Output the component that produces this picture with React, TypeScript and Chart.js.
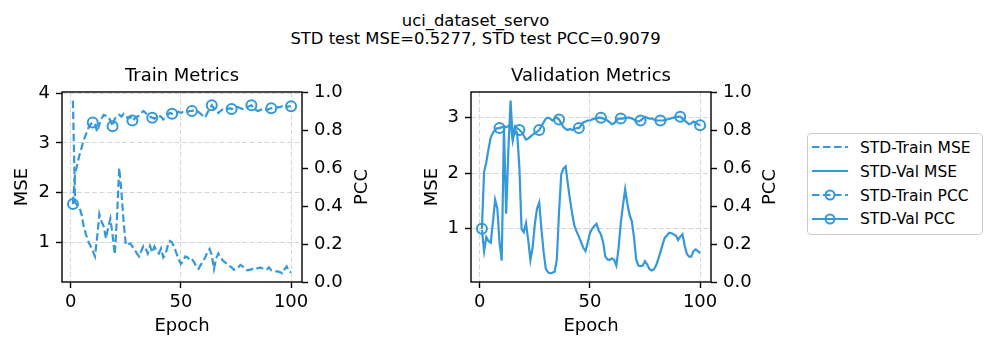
import React, { useEffect, useRef } from "react";
import { Chart, registerables } from "chart.js";

Chart.register(...registerables);

const COLOR = "#3498db";
const FONT = "'DejaVu Sans', 'Liberation Sans', sans-serif";

// ---------- data ----------
const epochs = Array.from({ length: 100 }, (_, i) => i + 1);

const trainMse = [
  3.85, 1.8, 1.75, 1.7, 1.55, 1.3, 1.15, 1.02, 0.93, 0.83,
  0.72, 1.1, 1.57, 1.42, 1.32, 1.08, 1.3, 1.48, 1.15, 0.76,
  1.5, 2.5, 2.03, 1.42, 0.95, 0.97, 0.98, 0.92, 0.86, 0.78,
  0.72, 0.83, 0.93, 0.88, 0.78, 0.93, 0.8, 0.92, 0.83, 0.78,
  0.88, 0.7, 0.76, 0.93, 1.03, 1.0, 0.9, 0.78, 0.66, 0.57,
  0.63, 0.72, 0.7, 0.65, 0.67, 0.6, 0.52, 0.47, 0.55, 0.62,
  0.7, 0.8, 0.87, 0.75, 0.47, 0.68, 0.78, 0.7, 0.64, 0.6,
  0.57, 0.53, 0.5, 0.45, 0.48, 0.5, 0.55, 0.52, 0.47, 0.44,
  0.45, 0.46, 0.48, 0.5, 0.48, 0.5, 0.48, 0.47, 0.46, 0.5,
  0.44, 0.43, 0.42, 0.42, 0.4, 0.38, 0.46, 0.52, 0.42, 0.4,
];

const trainPcc = [
  0.41, 0.57, 0.62, 0.67, 0.71, 0.75, 0.78, 0.81, 0.83, 0.84,
  0.83, 0.79, 0.83, 0.86, 0.88, 0.875, 0.87, 0.85, 0.82, 0.86,
  0.87, 0.88, 0.87, 0.885, 0.875, 0.86, 0.87, 0.85, 0.86, 0.87,
  0.875, 0.89, 0.9, 0.89, 0.875, 0.87, 0.865, 0.86, 0.87, 0.875,
  0.87, 0.855, 0.87, 0.88, 0.89, 0.885, 0.89, 0.895, 0.895, 0.89,
  0.895, 0.895, 0.895, 0.9, 0.9, 0.905, 0.9, 0.895, 0.885, 0.875,
  0.865, 0.89, 0.91, 0.93, 0.915, 0.905, 0.89, 0.9, 0.91, 0.915,
  0.91, 0.915, 0.91, 0.915, 0.92, 0.92, 0.915, 0.91, 0.915, 0.92,
  0.925, 0.93, 0.915, 0.905, 0.9, 0.905, 0.91, 0.91, 0.905, 0.91,
  0.915, 0.92, 0.915, 0.92, 0.92, 0.925, 0.92, 0.92, 0.925, 0.925,
];

const valMse = [
  0.98, 0.6, 0.85, 0.78, 0.75, 1.12, 1.52, 1.36, 0.75, 0.43,
  2.82, 1.27, 2.4, 3.3, 2.6, 2.78, 2.72, 2.1, 1.0, 0.94,
  1.1, 0.8, 0.44, 0.66, 1.08, 1.36, 1.47, 1.0, 0.58, 0.28,
  0.22, 0.2, 0.21, 0.23, 0.45, 1.3, 1.98, 2.08, 2.12, 1.8,
  1.52, 1.26, 1.05, 0.95, 0.86, 0.76, 0.66, 0.6, 0.75, 0.92,
  1.0, 1.05, 1.09, 0.97, 0.9, 0.76, 0.5, 0.45, 0.44, 0.47,
  0.44, 0.34, 0.65, 1.1, 1.42, 1.71, 1.45, 1.25, 1.14, 0.85,
  0.45, 0.34, 0.33, 0.34, 0.42, 0.36, 0.28, 0.25, 0.27, 0.34,
  0.45, 0.58, 0.72, 0.84, 0.88, 0.93, 0.92, 0.9, 0.88, 0.8,
  0.86, 0.9, 0.7, 0.55, 0.5, 0.5, 0.6, 0.63, 0.6, 0.56,
];

const valPcc = [
  0.28, 0.58, 0.63, 0.7, 0.76, 0.785, 0.8, 0.81, 0.81, 0.815,
  0.82, 0.815, 0.82, 0.83, 0.75, 0.82, 0.81, 0.8, 0.79, 0.77,
  0.75, 0.755, 0.765, 0.775, 0.785, 0.79, 0.8, 0.82, 0.84, 0.86,
  0.865, 0.86, 0.85, 0.86, 0.865, 0.855, 0.835, 0.815, 0.805, 0.8,
  0.805, 0.8, 0.805, 0.81, 0.81, 0.825, 0.84, 0.845, 0.85, 0.85,
  0.855, 0.86, 0.86, 0.865, 0.865, 0.86, 0.855, 0.85, 0.84, 0.83,
  0.835, 0.85, 0.86, 0.86, 0.86, 0.865, 0.865, 0.865, 0.86, 0.855,
  0.845, 0.845, 0.85, 0.86, 0.87, 0.865, 0.86, 0.86, 0.855, 0.85,
  0.85, 0.85, 0.85, 0.852, 0.855, 0.858, 0.862, 0.865, 0.868, 0.87,
  0.87, 0.86, 0.85, 0.84, 0.83, 0.835, 0.845, 0.84, 0.83, 0.825,
];

const trainPccMarkerEpochs = [1, 10, 19, 28, 37, 46, 55, 64, 73, 82, 91, 100];
const valPccMarkerEpochs = [1, 9, 18, 27, 36, 45, 55, 64, 73, 82, 91, 100];

const epochTicks = [0, 50, 100];
const trainMseTicks = [1, 2, 3, 4];
const valMseTicks = [1, 2, 3];
const pccTicks = [0, 0.2, 0.4, 0.6, 0.8, 1.0];

const suptitleLines = ["uci_dataset_servo", "STD test MSE=0.5277, STD test PCC=0.9079"];
const panelTitles = ["Train Metrics", "Validation Metrics"];
const legendLabels = ["STD-Train MSE", "STD-Val MSE", "STD-Train PCC", "STD-Val PCC"];

// ---------- helpers ----------
function paddedRange(values: number[]): [number, number] {
  const lo = Math.min(...values);
  const hi = Math.max(...values);
  const m = (hi - lo) * 0.05;
  return [lo - m, hi + m];
}

const decorPlugin = {
  id: "decor",
  afterDraw(chart: any, _args: any, opts: any) {
    const { ctx, chartArea: a } = chart;
    ctx.save();
    ctx.strokeStyle = "#000";
    ctx.lineWidth = 1.4;
    ctx.strokeRect(a.left, a.top, a.right - a.left, a.bottom - a.top);
    ctx.fillStyle = "#000";
    ctx.textBaseline = "alphabetic";
    ctx.textAlign = "center";
    for (const t of opts.texts || []) {
      ctx.save();
      ctx.font = `${t.size}px ${FONT}`;
      ctx.translate(t.x, t.y);
      if (t.rotate) ctx.rotate(-Math.PI / 2);
      ctx.fillText(t.text, 0, 0);
      ctx.restore();
    }
    ctx.restore();
  },
};

type PanelProps = {
  left: number;
  width: number;
  areaLeft: number;
  areaRight: number;
  title: string;
  mse: number[];
  pcc: number[];
  mseDash: number[];
  pccDash: number[];
  markerEpochs: number[];
  mseTicks: number[];
  mseLabelX: number;
  pccLabelX: number;
};

const H = 351;
const AREA_TOP = 92;
const AREA_BOTTOM = 282;

function Panel(p: PanelProps) {
  const ref = useRef<HTMLCanvasElement | null>(null);
  useEffect(() => {
    if (!ref.current) return;
    const [xmin, xmax] = paddedRange([epochs[0], epochs[epochs.length - 1]]);
    const [ymin, ymax] = paddedRange(p.mse);
    const cx = (p.areaLeft + p.areaRight) / 2;
    const cy = (AREA_TOP + AREA_BOTTOM) / 2;
    const tickFont = { family: FONT, size: 18 };
    const gridCommon = {
      color: "#d6d6d6",
      lineWidth: 1,
      tickColor: "#000",
      tickLength: 6,
      tickWidth: 1.4,
    };
    const chart = new Chart(ref.current, {
      type: "line",
      data: {
        datasets: [
          {
            label: "mse",
            data: p.mse.map((v, i) => ({ x: epochs[i], y: v })),
            yAxisID: "y",
            borderColor: COLOR,
            borderWidth: 2.2,
            borderDash: p.mseDash,
            pointRadius: 0,
            tension: 0,
            fill: false,
          },
          {
            label: "pcc",
            data: p.pcc.map((v, i) => ({ x: epochs[i], y: v })),
            yAxisID: "y1",
            borderColor: COLOR,
            borderWidth: 2.2,
            borderDash: p.pccDash,
            pointRadius: epochs.map((e) => (p.markerEpochs.includes(e) ? 5 : 0)),
            pointHoverRadius: 0,
            pointBorderWidth: 2,
            pointBorderColor: COLOR,
            pointBackgroundColor: "rgba(0,0,0,0)",
            tension: 0,
            fill: false,
          },
        ],
      },
      options: {
        animation: false,
        responsive: false,
        devicePixelRatio: 1,
        events: [],
        layout: { padding: { top: AREA_TOP, left: 0, right: 0, bottom: 0 } },
        plugins: {
          legend: { display: false },
          title: { display: false },
          tooltip: { enabled: false },
          decor: {
            texts: [
              { text: p.title, x: cx, y: 81, size: 18 },
              { text: "Epoch", x: cx, y: 331, size: 18 },
              { text: "MSE", x: p.mseLabelX, y: cy, size: 18, rotate: true },
              { text: "PCC", x: p.pccLabelX, y: cy, size: 18, rotate: true },
            ],
          },
        } as any,
        scales: {
          x: {
            type: "linear",
            min: xmin,
            max: xmax,
            afterBuildTicks: (s: any) => {
              s.ticks = epochTicks.map((v) => ({ value: v }));
            },
            afterFit: (s: any) => {
              s.height = H - AREA_BOTTOM;
            },
            ticks: {
              font: tickFont,
              color: "#000",
              padding: 4,
              maxRotation: 0,
              autoSkip: false,
              callback: (v: any) => String(v),
            },
            grid: { ...gridCommon },
            border: { display: false, dash: [5, 2.5] },
          },
          y: {
            type: "linear",
            position: "left",
            min: ymin,
            max: ymax,
            afterBuildTicks: (s: any) => {
              s.ticks = p.mseTicks.map((v) => ({ value: v }));
            },
            afterFit: (s: any) => {
              s.width = p.areaLeft;
            },
            ticks: {
              font: tickFont,
              color: "#000",
              padding: 6,
              autoSkip: false,
              callback: (v: any) => String(v),
            },
            grid: { ...gridCommon },
            border: { display: false, dash: [5, 2.5] },
          },
          y1: {
            type: "linear",
            position: "right",
            min: 0,
            max: 1,
            afterBuildTicks: (s: any) => {
              s.ticks = pccTicks.map((v) => ({ value: v }));
            },
            afterFit: (s: any) => {
              s.width = p.width - p.areaRight;
            },
            ticks: {
              font: tickFont,
              color: "#000",
              padding: 6,
              autoSkip: false,
              callback: (v: any) => Number(v).toFixed(1),
            },
            grid: { ...gridCommon, drawOnChartArea: false },
            border: { display: false },
          },
        },
      } as any,
      plugins: [decorPlugin],
    });
    return () => chart.destroy();
  }, []);
  return (
    <canvas
      ref={ref}
      width={p.width}
      height={H}
      style={{ position: "absolute", left: p.left, top: 0, width: p.width, height: H }}
    />
  );
}

function LegendSample({ dashed, marker }: { dashed: boolean; marker: boolean }) {
  return (
    <svg width={36} height={16} style={{ display: "block" }}>
      <line
        x1={0}
        y1={8}
        x2={36}
        y2={8}
        stroke={COLOR}
        strokeWidth={2.2}
        strokeDasharray={dashed ? "7.5 3.5" : undefined}
      />
      {marker && <circle cx={18} cy={8} r={4.5} fill="none" stroke={COLOR} strokeWidth={2} />}
    </svg>
  );
}

export default function App() {
  const legendStyles = [
    { dashed: true, marker: false },
    { dashed: false, marker: false },
    { dashed: true, marker: true },
    { dashed: false, marker: true },
  ];
  const legendCenters = [147, 171, 195, 218.5];
  return (
    <div
      style={{
        position: "absolute",
        left: 0,
        top: 0,
        width: 997,
        height: 351,
        background: "#fff",
        overflow: "hidden",
        fontFamily: FONT,
        color: "#000",
      }}
    >
      {suptitleLines.map((t, i) => (
        <div
          key={t}
          style={{
            position: "absolute",
            left: 0,
            width: 951,
            top: i === 0 ? 11 : 28.6,
            textAlign: "center",
            fontSize: 16.4,
            lineHeight: "20px",
            whiteSpace: "nowrap",
          }}
        >
          {t}
        </div>
      ))}
      <Panel
        left={0}
        width={380}
        areaLeft={62}
        areaRight={302}
        title={panelTitles[0]}
        mse={trainMse}
        pcc={trainPcc}
        mseDash={[7.5, 3.5]}
        pccDash={[7.5, 3.5]}
        markerEpochs={trainPccMarkerEpochs}
        mseTicks={trainMseTicks}
        mseLabelX={26.5}
        pccLabelX={367}
      />
      <Panel
        left={400}
        width={380}
        areaLeft={71}
        areaRight={311}
        title={panelTitles[1]}
        mse={valMse}
        pcc={valPcc}
        mseDash={[]}
        pccDash={[]}
        markerEpochs={valPccMarkerEpochs}
        mseTicks={valMseTicks}
        mseLabelX={36.7}
        pccLabelX={375}
      />
      <div
        style={{
          position: "absolute",
          left: 807,
          top: 133,
          width: 176,
          height: 102,
          border: "1px solid #cccccc",
          borderRadius: 4,
          boxSizing: "border-box",
        }}
      />
      {legendLabels.map((label, i) => (
        <React.Fragment key={label}>
          <div style={{ position: "absolute", left: 812, top: legendCenters[i] - 8 }}>
            <LegendSample dashed={legendStyles[i].dashed} marker={legendStyles[i].marker} />
          </div>
          <div
            style={{
              position: "absolute",
              left: 860,
              top: legendCenters[i] + 6.3 - 14.4,
              fontSize: 15.5,
              lineHeight: "18px",
              whiteSpace: "nowrap",
            }}
          >
            {label}
          </div>
        </React.Fragment>
      ))}
    </div>
  );
}
